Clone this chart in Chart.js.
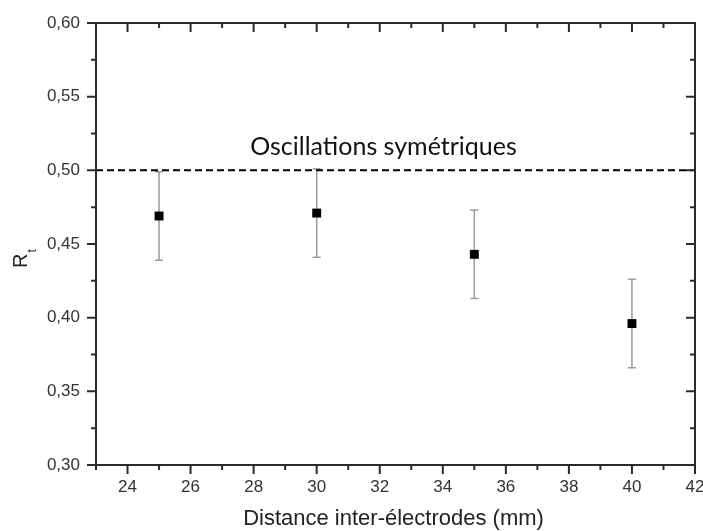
<!DOCTYPE html>
<html>
<head>
<meta charset="utf-8">
<script src="https://cdn.jsdelivr.net/npm/chart.js@4/dist/chart.umd.min.js"></script>
<style>
html,body{margin:0;padding:0;background:#fff;}
#wrap{width:703px;height:531px;position:relative;}
</style>
</head>
<body>
<div id="wrap"><canvas id="c" width="703" height="531"></canvas></div>
<script>
// ---- data ----
const distances = [25, 30, 35, 40];
const rtValues  = [0.469, 0.471, 0.443, 0.396];
const rtErrors  = [0.030, 0.030, 0.030, 0.030];
const refLevel = 0.50;
const refLabel = 'Oscillations symétriques';
const xMajorTicks = [24, 26, 28, 30, 32, 34, 36, 38, 40, 42];
const xMinorTicks = [23, 25, 27, 29, 31, 33, 35, 37, 39, 41];
const yMajorTicks = [0.30, 0.35, 0.40, 0.45, 0.50, 0.55, 0.60];
const yTickLabels = ['0,30', '0,35', '0,40', '0,45', '0,50', '0,55', '0,60'];
const yMinorTicks = [0.325, 0.375, 0.425, 0.475, 0.525, 0.575];
const xTitle = 'Distance inter-électrodes (mm)';
const yTitleMain = 'R';
const yTitleSub = 't';
const xRange = [23, 42];
const yRange = [0.30, 0.60];

const AXIS_COLOR = '#2b2b2b';

const framePlugin = {
  id: 'frame',
  beforeDatasetsDraw(chart) {
    const ctx = chart.ctx;
    const xs = chart.scales.x, ys = chart.scales.y;
    ctx.save();
    ctx.strokeStyle = '#9a9a9a';
    ctx.lineWidth = 1.5;
    distances.forEach((d, i) => {
      const px = xs.getPixelForValue(d);
      const top = ys.getPixelForValue(rtValues[i] + rtErrors[i]);
      const bot = ys.getPixelForValue(rtValues[i] - rtErrors[i]);
      ctx.beginPath();
      ctx.moveTo(px, top); ctx.lineTo(px, bot);
      ctx.moveTo(px - 4, top); ctx.lineTo(px + 4, top);
      ctx.moveTo(px - 4, bot); ctx.lineTo(px + 4, bot);
      ctx.stroke();
    });
    ctx.restore();
  },
  afterDraw(chart) {
    const ctx = chart.ctx;
    const a = chart.chartArea;
    const xs = chart.scales.x, ys = chart.scales.y;
    ctx.save();
    ctx.strokeStyle = AXIS_COLOR;
    ctx.lineWidth = 2;
    ctx.strokeRect(a.left, a.top, a.right - a.left, a.bottom - a.top);
    ctx.beginPath();
    const MAJ = 9, MIN = 5;
    xMajorTicks.forEach(v => {
      const p = xs.getPixelForValue(v);
      ctx.moveTo(p, a.bottom); ctx.lineTo(p, a.bottom + MAJ);
      ctx.moveTo(p, a.top); ctx.lineTo(p, a.top + MAJ);
    });
    xMinorTicks.forEach(v => {
      const p = xs.getPixelForValue(v);
      ctx.moveTo(p, a.bottom); ctx.lineTo(p, a.bottom + MIN);
      ctx.moveTo(p, a.top); ctx.lineTo(p, a.top + MIN);
    });
    yMajorTicks.forEach(v => {
      const p = ys.getPixelForValue(v);
      ctx.moveTo(a.left, p); ctx.lineTo(a.left - MAJ, p);
      ctx.moveTo(a.right, p); ctx.lineTo(a.right - MAJ, p);
    });
    yMinorTicks.forEach(v => {
      const p = ys.getPixelForValue(v);
      ctx.moveTo(a.left, p); ctx.lineTo(a.left - MIN, p);
      ctx.moveTo(a.right, p); ctx.lineTo(a.right - MIN, p);
    });
    ctx.stroke();

    // reference label
    ctx.fillStyle = '#111';
    ctx.font = '25px Lato';
    ctx.textAlign = 'center';
    ctx.textBaseline = 'alphabetic';
    ctx.fillText(refLabel, xs.getPixelForValue(32.12), ys.getPixelForValue(refLevel) - 15);

    // x title
    ctx.fillStyle = '#222';
    ctx.font = '22px "Liberation Sans", Arial, sans-serif';
    ctx.fillText(xTitle, 393.5, 525);

    // y title with subscript
    ctx.translate(27, 268);
    ctx.rotate(-Math.PI / 2);
    ctx.textAlign = 'left';
    ctx.font = '20px "Liberation Sans", Arial, sans-serif';
    ctx.fillText(yTitleMain, 0, 0);
    const w = ctx.measureText(yTitleMain).width;
    ctx.font = '12px "Liberation Sans", Arial, sans-serif';
    ctx.fillText(yTitleSub, w + 1, 9);
    ctx.restore();
  }
};

new Chart(document.getElementById('c'), {
  type: 'scatter',
  data: {
    datasets: [
      {
        label: 'Rt',
        data: distances.map((d, i) => ({x: d, y: rtValues[i]})),
        pointStyle: 'rect',
        pointRadius: 6.3,
        pointHoverRadius: 6.3,
        backgroundColor: '#000',
        borderColor: '#000',
        borderWidth: 0,
        showLine: false
      },
      {
        label: 'ref',
        data: xRange.map(x => ({x: x, y: refLevel})),
        showLine: true,
        borderColor: '#000',
        borderWidth: 2,
        borderDash: [7, 4],
        pointRadius: 0,
        fill: false
      }
    ]
  },
  plugins: [framePlugin],
  options: {
    responsive: false,
    animation: false,
    devicePixelRatio: 1,
    layout: { padding: { top: 23, right: 8, left: 0, bottom: 0 } },
    plugins: { legend: { display: false }, tooltip: { enabled: false }, title: { display: false } },
    scales: {
      x: {
        type: 'linear',
        min: xRange[0], max: xRange[1],
        grid: { display: false, drawTicks: false },
        border: { display: false },
        afterBuildTicks: s => { s.ticks = xMajorTicks.map(v => ({value: v})); },
        afterFit: s => { s.height = 66; s.paddingLeft = 0; s.paddingRight = 0; },
        ticks: {
          color: '#333',
          font: { family: '"Liberation Sans", Arial, sans-serif', size: 17 },
          padding: 12,
          maxRotation: 0,
          autoSkip: false,
          callback: v => String(v)
        }
      },
      y: {
        type: 'linear',
        min: yRange[0], max: yRange[1],
        grid: { display: false, drawTicks: false },
        border: { display: false },
        afterBuildTicks: s => { s.ticks = yMajorTicks.map(v => ({value: v})); },
        afterFit: s => { s.width = 96; s.paddingTop = 0; s.paddingBottom = 0; },
        ticks: {
          color: '#333',
          font: { family: '"Liberation Sans", Arial, sans-serif', size: 17 },
          padding: 16,
          autoSkip: false,
          callback: (v) => { const i = yMajorTicks.findIndex(t => Math.abs(t - v) < 1e-9); return i >= 0 ? yTickLabels[i] : ''; }
        }
      }
    }
  }
});
</script>
</body>
</html>
